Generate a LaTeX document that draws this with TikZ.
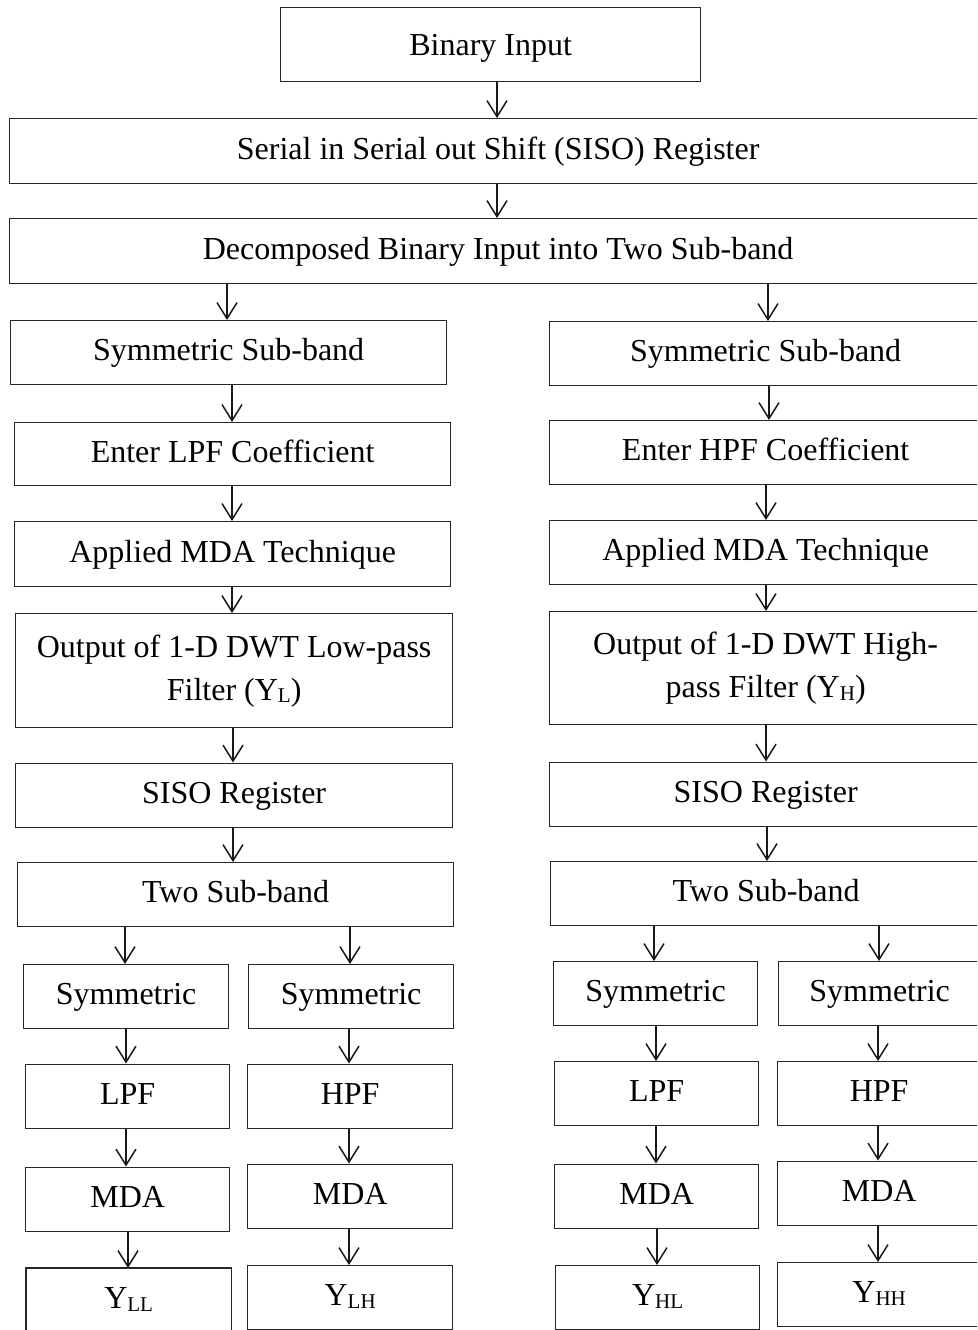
\documentclass[tikz,border=0pt]{standalone}
\usepackage{fontspec}
\setmainfont{Liberation Serif}
\usetikzlibrary{arrows.meta}
\newcommand{\mysub}[1]{\raisebox{-2.5pt}{\fontsize{21}{21}\selectfont #1}}
\begin{document}
\begin{tikzpicture}[x=1pt, y=-1pt,
  frame/.style={draw=black!85, line width=1.3pt, inner sep=0pt, anchor=north west,
    font=\fontsize{32}{43}\selectfont},
  one/.style={frame, text height=22pt, text depth=6pt},
  two/.style={frame, align=center},
  arr/.style={draw=black!90, line width=1.5pt, -{Straight Barb[length=16pt,width=20pt]}}]
\useasboundingbox (0,0) rectangle (977,1330);
\clip (0,0) rectangle (977,1330);

% top
\node[one, text height=26pt, text depth=4pt, minimum width=420, minimum height=74] (bin) at (280,7) {Binary Input};
\node[one, minimum width=977, minimum height=65] (siso) at (9,118) {Serial in Serial out Shift (SISO) Register};
\node[one, minimum width=977, minimum height=65] (dec) at (9,218) {Decomposed Binary Input into Two Sub-band};

% left column
\node[one, minimum width=436, minimum height=64] (ls1) at (10,320) {Symmetric Sub-band};
\node[one, minimum width=436, minimum height=63] (ls2) at (14,422) {Enter LPF Coefficient};
\node[one, minimum width=436, minimum height=65] (ls3) at (14,521) {Applied MDA Technique};
\node[two, minimum width=437, minimum height=114] (ls4) at (15,613) {Output of 1-D DWT Low-pass\\Filter (Y\mysub{L})};
\node[one, minimum width=437, minimum height=64] (ls5) at (15,762.5) {SISO Register};
\node[one, minimum width=436, minimum height=64] (ls6) at (17,862) {Two Sub-band};

\node[one, minimum width=205, minimum height=64] (LL1) at (23,964) {Symmetric};
\node[one, minimum width=205, minimum height=64] (LH1) at (248,964) {Symmetric};
\node[one, minimum width=204, minimum height=64] (LL2) at (25,1063.5) {LPF};
\node[one, minimum width=205, minimum height=64] (LH2) at (247,1063.5) {HPF};
\node[one, minimum width=204, minimum height=64] (LL3) at (25,1166.5) {MDA};
\node[one, minimum width=205, minimum height=64.5] (LH3) at (247,1163.5) {MDA};
\node[one, draw=none, minimum width=204, minimum height=64] (LL4) at (26,1268) {Y\mysub{LL}};
\draw[draw=black!85, line width=1.3pt] ([yshift=-20pt]LL4.south west) rectangle (LL4.north east);
\node[one, minimum width=205, minimum height=64] (LH4) at (247,1265) {Y\mysub{LH}};

% right column
\node[one, minimum width=432, minimum height=64] (rs1) at (549,321) {Symmetric Sub-band};
\node[one, minimum width=432, minimum height=64] (rs2) at (549,420) {Enter HPF Coefficient};
\node[one, minimum width=432, minimum height=64] (rs3) at (549,520) {Applied MDA Technique};
\node[two, minimum width=432, minimum height=113] (rs4) at (549,611) {Output of 1-D DWT High-\\pass Filter (Y\mysub{H})};
\node[one, minimum width=432, minimum height=64] (rs5) at (549,761.5) {SISO Register};
\node[one, minimum width=431, minimum height=64] (rs6) at (550,861) {Two Sub-band};

\node[one, minimum width=204, minimum height=64] (HL1) at (553,961) {Symmetric};
\node[one, minimum width=202, minimum height=64] (HH1) at (778,961) {Symmetric};
\node[one, minimum width=204, minimum height=64] (HL2) at (554,1061) {LPF};
\node[one, minimum width=203, minimum height=64] (HH2) at (777,1061) {HPF};
\node[one, minimum width=204, minimum height=64.5] (HL3) at (554,1163.5) {MDA};
\node[one, minimum width=203, minimum height=64.5] (HH3) at (777,1160.5) {MDA};
\node[one, minimum width=204, minimum height=64] (HL4) at (555,1265) {Y\mysub{HL}};
\node[one, minimum width=203, minimum height=64] (HH4) at (777,1262) {Y\mysub{HH}};

% arrows top
\draw[arr] (497,0 |- bin.south) -- (497,0 |- siso.north);
\draw[arr] (497,0 |- siso.south) -- (497,0 |- dec.north);
\draw[arr] (227,0 |- dec.south) -- (227,0 |- ls1.north);
\draw[arr] (768,0 |- dec.south) -- (768,0 |- rs1.north);

% arrows left
\draw[arr] (232,0 |- ls1.south) -- (232,0 |- ls2.north);
\draw[arr] (232,0 |- ls2.south) -- (232,0 |- ls3.north);
\draw[arr] (232,0 |- ls3.south) -- (232,0 |- ls4.north);
\draw[arr] (233,0 |- ls4.south) -- (233,0 |- ls5.north);
\draw[arr] (233,0 |- ls5.south) -- (233,0 |- ls6.north);
\draw[arr] (125,0 |- ls6.south) -- (125,0 |- LL1.north);
\draw[arr] (350,0 |- ls6.south) -- (350,0 |- LH1.north);
\draw[arr] (126,0 |- LL1.south) -- (126,0 |- LL2.north);
\draw[arr] (126,0 |- LL2.south) -- (126,0 |- LL3.north);
\draw[arr] (128,0 |- LL3.south) -- (128,0 |- LL4.north);
\draw[arr] (349,0 |- LH1.south) -- (349,0 |- LH2.north);
\draw[arr] (349,0 |- LH2.south) -- (349,0 |- LH3.north);
\draw[arr] (349,0 |- LH3.south) -- (349,0 |- LH4.north);

% arrows right
\draw[arr] (769,0 |- rs1.south) -- (769,0 |- rs2.north);
\draw[arr] (766,0 |- rs2.south) -- (766,0 |- rs3.north);
\draw[arr] (766,0 |- rs3.south) -- (766,0 |- rs4.north);
\draw[arr] (766,0 |- rs4.south) -- (766,0 |- rs5.north);
\draw[arr] (767,0 |- rs5.south) -- (767,0 |- rs6.north);
\draw[arr] (654,0 |- rs6.south) -- (654,0 |- HL1.north);
\draw[arr] (879,0 |- rs6.south) -- (879,0 |- HH1.north);
\draw[arr] (656,0 |- HL1.south) -- (656,0 |- HL2.north);
\draw[arr] (656,0 |- HL2.south) -- (656,0 |- HL3.north);
\draw[arr] (657,0 |- HL3.south) -- (657,0 |- HL4.north);
\draw[arr] (878,0 |- HH1.south) -- (878,0 |- HH2.north);
\draw[arr] (878,0 |- HH2.south) -- (878,0 |- HH3.north);
\draw[arr] (878,0 |- HH3.south) -- (878,0 |- HH4.north);
\end{tikzpicture}
\end{document}
